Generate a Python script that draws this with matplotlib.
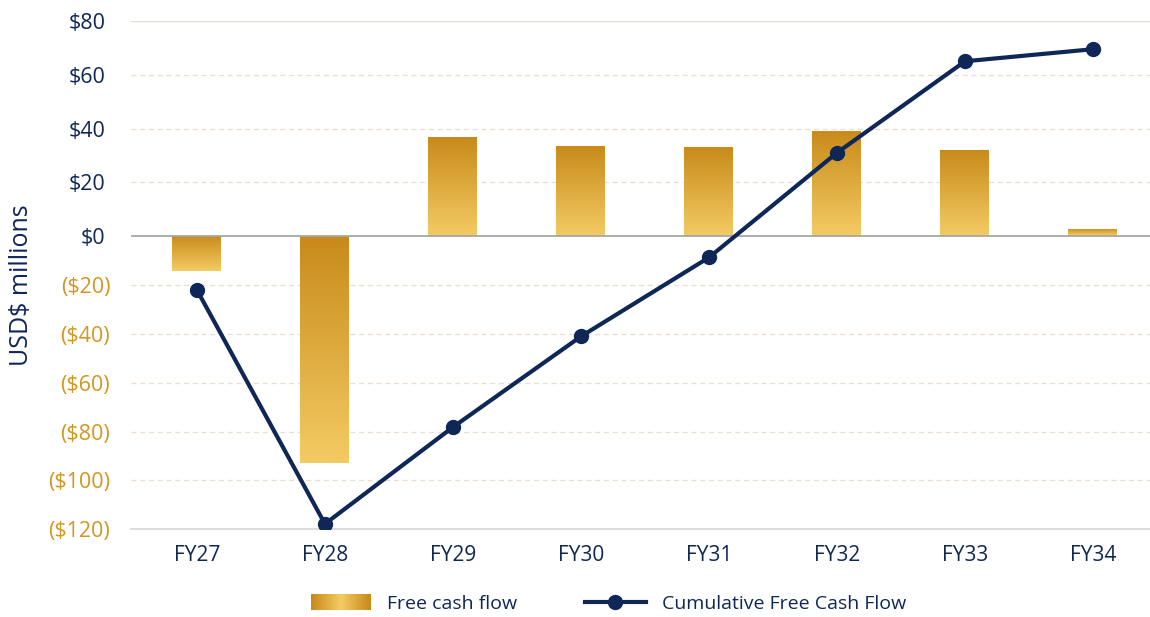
import numpy as np
import matplotlib
matplotlib.use("Agg")
import matplotlib.pyplot as plt
from matplotlib.colors import LinearSegmentedColormap
from matplotlib.patches import Rectangle
from matplotlib.lines import Line2D
from matplotlib.legend_handler import HandlerBase
from matplotlib.transforms import ScaledTranslation

categories = ["FY27", "FY28", "FY29", "FY30", "FY31", "FY32", "FY33", "FY34"]
free_cash_flow = [-14.5, -93.0, 37.0, 33.8, 33.4, 39.5, 32.4, 2.8]
cumulative_fcf = [-22.1, -117.8, -78.2, -41.1, -8.8, 31.0, 65.1, 69.6]
yticks = [80, 60, 40, 20, 0, -20, -40, -60, -80, -100, -120]
ytick_labels = ["$80", "$60", "$40", "$20", "$0", "($20)", "($40)", "($60)",
                "($80)", "($100)", "($120)"]

NAVY = "#0f2757"
GOLD_TXT = "#d4961f"
DARK = "#c88a1a"
LIGHT = "#f3cb63"
cmap = LinearSegmentedColormap.from_list("gold", [DARK, LIGHT])

plt.rcParams['font.family'] = ['Open Sans', 'DejaVu Sans']

fig = plt.figure(figsize=(11.5, 6.17), dpi=100)
left, right = 131 / 1150, 1150 / 1150
top, bottom = 1 - 21.3 / 617, 1 - 529.3 / 617
ax = fig.add_axes([left, bottom, right - left, top - bottom])

pos_s, neg_s = 2.67, 2.433
def fwd(y):
    y = np.asarray(y, dtype=float)
    return np.where(y >= 0, y * pos_s, y * neg_s)
def inv(p):
    p = np.asarray(p, dtype=float)
    return np.where(p >= 0, p / pos_s, p / neg_s)
ax.set_yscale('function', functions=(fwd, inv))

x = np.arange(len(categories))
w = 0.39
grad = np.linspace(0, 1, 256).reshape(-1, 1)
bars = ax.bar(x, free_cash_flow, width=w, color="none", edgecolor="none", zorder=2)
for xi, v, b in zip(x, free_cash_flow, bars):
    im = ax.imshow(grad, cmap=cmap, aspect='auto', origin='upper',
                   extent=(xi - w / 2, xi + w / 2, min(0, v), max(0, v)),
                   zorder=2, interpolation='bilinear')
    im.set_clip_path(b)

ax.plot(x, cumulative_fcf, color=NAVY, lw=3, marker='o', markersize=10,
        zorder=4, solid_capstyle='round')

ax.set_xlim(-0.515, 7.445)
ax.set_ylim(-120, 80)

for yv in yticks:
    if yv == 0:
        ax.axhline(0, color="#a6a6a6", lw=1.3, zorder=3)
    elif yv == -120:
        pass
    elif yv == 80:
        ax.axhline(yv, color="#e6dcd2", lw=1.0, zorder=1)
    else:
        ax.axhline(yv, color="#ecdfcf", lw=0.9, ls=(0, (4, 3)), zorder=1)

for s in ["top", "right", "left"]:
    ax.spines[s].set_visible(False)
ax.spines["bottom"].set_color("#d5d5d5")
ax.spines["bottom"].set_linewidth(1.2)

ax.set_yticks(yticks)
ax.set_yticklabels(ytick_labels)
ax.tick_params(axis='y', length=0, pad=15, labelsize=15.5)
for lab, yv in zip(ax.get_yticklabels(), yticks):
    if yv >= 0:
        lab.set_color(NAVY)
        lab.set_transform(lab.get_transform() + ScaledTranslation(-5 / 100, 0, fig.dpi_scale_trans))
    else:
        lab.set_color(GOLD_TXT)

ax.set_xticks(x)
ax.set_xticklabels(categories)
ax.tick_params(axis='x', length=0, pad=11, labelsize=15, labelcolor=NAVY)

fig.text(22 / 1150, 1 - 285 / 617, "USD$ millions", rotation=90, color=NAVY,
         fontsize=18, ha='center', va='center')


class GradHandler(HandlerBase):
    def create_artists(self, legend, orig_handle, xdescent, ydescent, width,
                       height, fontsize, trans):
        arts = []
        n = 30
        for i in range(n):
            t = i / (n - 1)
            c = cmap(1 - abs(2 * t - 1))
            r = Rectangle((-xdescent + width * i / n, -ydescent - height * 0.1),
                          width / n * 1.05, height * 1.2, facecolor=c,
                          edgecolor='none', transform=trans)
            arts.append(r)
        return arts


bar_handle = Rectangle((0, 0), 1, 1)
line_handle = Line2D([], [], color=NAVY, lw=3, marker='o', markersize=10)
leg = fig.legend([bar_handle, line_handle],
                 ["Free cash flow", "Cumulative Free Cash Flow"],
                 handler_map={Rectangle: GradHandler()},
                 loc='center', bbox_to_anchor=(0.529, 1 - 604 / 617), ncol=2,
                 frameon=False, fontsize=14, handlelength=3.1,
                 handletextpad=0.82, columnspacing=3.5, labelcolor=NAVY)

fig.savefig("out.png", dpi=100)
